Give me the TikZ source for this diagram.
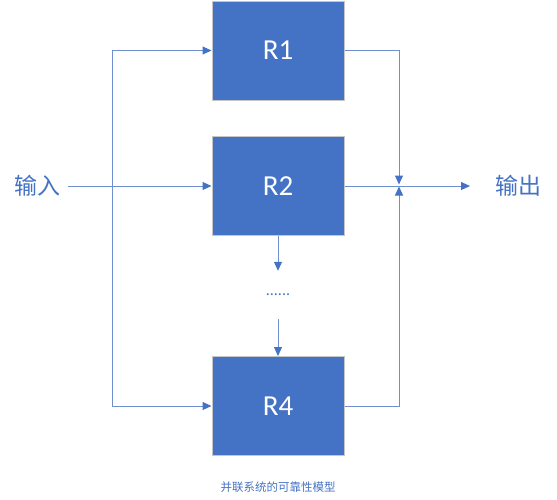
\documentclass[tikz,border=0pt]{standalone}
\usepackage{fontspec}
\setmainfont{Carlito}
\newfontfamily\cjk{Noto Sans CJK SC}
\usetikzlibrary{arrows.meta}
\definecolor{boxblue}{HTML}{4472C4}
\definecolor{lineblue}{HTML}{6F8FD0}
\begin{document}
\begin{tikzpicture}[x=1pt,y=-1pt,
    blk/.style={draw=gray!45,line width=1pt,fill=boxblue,text=white,
      minimum width=132pt,minimum height=99pt,inner sep=0pt,font=\fontsize{29}{30}\selectfont},
    lbl/.style={text=boxblue,inner sep=0pt,font=\cjk\fontsize{23}{24}\selectfont},
    wire/.style={draw=lineblue,line width=1pt},
    arr/.style={wire,-{Triangle[length=9pt,width=8pt,color=boxblue]}}]
  \useasboundingbox (0,0) rectangle (557,499);
  \node[blk] (r1) at (278,50.5) {R1};
  \node[blk] (r2) at (278,186) {R2};
  \node[blk] (r4) at (278,406) {R4};
  \node[lbl] (in) at (37,186) {输入};
  \node[lbl] (out) at (518,186) {输出};
  \node[text=boxblue,inner sep=0pt,minimum height=48pt,font=\fontsize{16}{16}\selectfont]
    (dots) at (278,295) {......};
  \node[text=boxblue,inner sep=0pt,font=\cjk\fontsize{11.5}{12}\selectfont] (title) at (278,487) {并联系统的可靠性模型};
  \coordinate (bust) at (112,50.5);
  \coordinate (busb) at (112,406);
  \coordinate (jn) at (399,186);
  \coordinate (outend) at (470,186);
  % input side
  \draw[arr,shorten <=8pt] (in.east) -- (r2.west);
  \draw[wire] (bust) -- (busb);
  \draw[arr] (bust) -- (r1.west);
  \draw[arr] (busb) -- (r4.west);
  % output side
  \draw[arr,shorten >=1.5pt] (r1.east) -| (jn);
  \draw[arr,shorten >=0.5pt] (r4.east) -| (jn);
  \draw[arr] (r2.east) -- (outend);
  % dots
  \draw[arr] (r2.south) -- (dots.north);
  \draw[arr] (dots.south) -- (r4.north);
\end{tikzpicture}
\end{document}
